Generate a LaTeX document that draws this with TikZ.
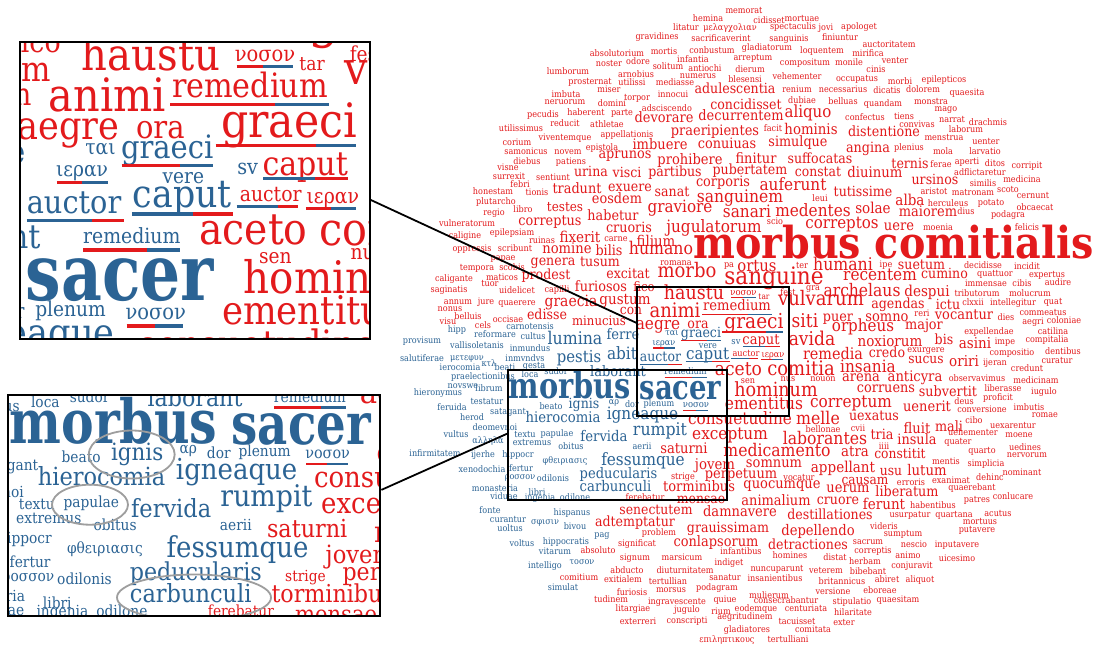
\documentclass[tikz,border=0pt]{standalone}
\usepackage{fontspec}
\usepackage{graphicx}
\usetikzlibrary{calc}
\newfontfamily\cf[FakeStretch=0.9]{DejaVu Serif}
\definecolor{cR}{RGB}{227,26,28}
\definecolor{cB}{RGB}{43,99,148}
\newcounter{wc}
\def\ulw{1.2pt}
\tikzset{wst/.style={inner sep=0pt,anchor=base},
 frame/.style={draw=black,line width=1.7pt,inner sep=0pt},
 inframe/.style={draw=black,line width=2.2pt,inner sep=0pt},
 conn/.style={draw=black,line width=1.8pt},
 ellst/.style={draw=black!38,line width=1.8pt}}
\newcommand\cwR[4]{\stepcounter{wc}\node[wst,text=cR,font=\cf\fontsize{#3}{#3}\selectfont] (w\thewc) at (#1,#2+0.27*#3) {#4};}
\newcommand\cwB[4]{\stepcounter{wc}\node[wst,text=cB,font=\cf\fontsize{#3}{#3}\selectfont] (w\thewc) at (#1,#2+0.27*#3) {#4};}
\newcommand\cwRB[4]{\stepcounter{wc}\node[wst,text=cR,font=\cf\bfseries\fontsize{#3}{#3}\selectfont] (w\thewc) at (#1,#2+0.27*#3) {#4};}
\newcommand\cwBB[4]{\stepcounter{wc}\node[wst,text=cB,font=\cf\bfseries\fontsize{#3}{#3}\selectfont] (w\thewc) at (#1,#2+0.27*#3) {\scalebox{1}[1.12]{#4}};}
\newcommand\swR[3]{\cwR{#1}{#2}{9}{#3}}
\newcommand\swB[3]{\cwB{#1}{#2}{9}{#3}}
\newcommand\ulRB[4]{\draw[line width=\ulw,cR] (#1,#4)--(#2,#4); \draw[line width=\ulw,cB] (#2,#4)--(#3,#4);}
\newcommand\ulBR[4]{\draw[line width=\ulw,cB] (#1,#4)--(#2,#4); \draw[line width=\ulw,cR] (#2,#4)--(#3,#4);}
\newcommand\drawcloud{%
\swR{744}{11}{memorat}\swR{708}{19}{hemina}\swR{769}{21}{cidisset}\swR{802}{19}{mortuae}
\swR{686}{28}{litatur}\swR{730}{28}{μελαγχολιαν}\swR{793}{27}{spectaculis}\swR{826}{28}{jovi}
\swR{859}{27}{apologet}\swR{657}{37}{gravidines}\swR{721}{39}{sacrificaverint}\swR{789}{39}{sanguinis}
\swR{840}{38}{finiuntur}\swR{889}{45}{auctoritatem}\swR{617}{54}{absolutorium}\swR{664}{52}{mortis}
\swR{712}{51}{conbustum}\swR{767}{48}{gladiatorum}\swR{822}{51}{loquentem}\swR{868}{54}{mirifica}
\swR{609}{64}{noster}\swR{638}{62}{odore}\swR{693}{60}{infantia}\swR{753}{58}{arreptum}
\swR{805}{63}{compositum}\swR{849}{63}{monile}\swR{895}{61}{venter}\swR{876}{70}{cinis}
\swR{568}{72}{lumborum}\swR{636}{75}{arnobius}\swR{668}{67}{solitum}\swR{705}{69}{antiochi}
\swR{750}{70}{dierum}\swR{797}{77}{vehementer}\swR{857}{79}{occupatus}\swR{900}{82}{morbi}
\swR{944}{80}{epilepticos}\swR{590}{82}{prosternat}\swR{632}{83}{utilissi}\swR{675}{83}{mediasse}
\swR{698}{76}{numerus}\swR{745}{80}{blesensi}\swR{843}{90}{necessarius}\swR{887}{91}{dicatis}
\swR{923}{90}{dolorem}\swR{967}{93}{quaesita}\swR{566}{95}{imbuta}\swR{609}{90}{miser}
\swR{797}{90}{renium}\swR{565}{102}{neruorum}\swR{612}{104}{domini}\swR{637}{98}{torpor}
\swR{673}{95}{innocui}\swR{802}{101}{dubiae}\swR{843}{102}{belluas}\swR{883}{104}{quandam}
\swR{931}{102}{monstra}\swR{946}{109}{mago}\swR{543}{115}{pecudis}\swR{586}{113}{haberent}
\swR{622}{113}{parte}\swR{667}{109}{adsciscendo}\swR{865}{118}{confectus}\swR{904}{117}{tiens}
\swR{917}{125}{convivas}\swR{952}{120}{narrat}\swR{988}{123}{drachmis}\swR{565}{124}{reducit}
\swR{607}{125}{athletae}\swR{773}{129}{facit}\swR{966}{130}{laborum}\swR{521}{129}{utilissimus}
\swR{565}{138}{viventemque}\swR{627}{135}{appellationis}\swR{944}{138}{menstrua}\swR{986}{142}{uenter}
\swR{517}{143}{corium}\swR{526}{152}{samonicus}\swR{568}{152}{novem}\swR{602}{148}{epistola}
\swR{909}{148}{plenius}\swR{943}{152}{mola}\swR{985}{152}{larvatio}
\swR{508}{168}{visne}\swR{509}{177}{surrexit}\swR{527}{162}{diebus}\swR{571}{162}{patiens}
\swR{520}{185}{febri}\swR{553}{178}{sentiunt}\swR{493}{192}{honestam}\swR{537}{193}{tionis}
\swR{496}{202}{plutarcho}\swR{523}{210}{libro}\swR{494}{213}{regio}\swR{467}{224}{vulneratorum}
\swR{465}{236}{caligine}\swR{512}{233}{epilepsiam}\swR{616}{239}{carne}\swR{472}{249}{oppressis}
\swR{542}{241}{ruinas}\swR{515}{249}{scribunt}\swR{503}{258}{papae}\swR{676}{263}{romana}
\swR{477}{268}{tempora}\swR{512}{268}{scobis}\swR{454}{279}{caligante}\swR{502}{278}{maticos}
\swR{490}{284}{tuor}\swR{517}{291}{uidelicet}\swR{557}{290}{capilli}\swR{449}{290}{saginatis}
\swR{458}{302}{annum}\swR{486}{302}{jure}\swR{517}{303}{quaerere}\swR{450}{309}{nonus}
\swR{468}{317}{belluis}\swR{448}{322}{visu}\swR{483}{326}{cels}\swR{508}{320}{occisae}
\swR{941}{165}{ferae}\swR{967}{162}{aperti}\swR{995}{164}{ditos}\swR{1027}{166}{corripit}
\swR{980}{173}{adflictaretur}\swR{983}{184}{similis}\swR{1022}{180}{medicina}\swR{934}{192}{aristot}
\swR{973}{193}{matronam}\swR{1008}{190}{scoto}\swR{1033}{196}{cernunt}\swR{820}{199}{leui}
\swR{948}{204}{herculeus}\swR{991}{203}{potato}\swR{1035}{208}{obcaecat}\swR{966}{212}{dius}
\swR{1008}{215}{podagra}\swR{775}{222}{scio}\swR{938}{228}{moenia}\swR{1027}{228}{felicis}
\swR{729}{265}{pa}\swR{802}{266}{ter}\swR{886}{265}{ipe}\swR{983}{266}{decidisse}
\swR{1027}{267}{incidit}\swR{995}{274}{quattuor}\swR{1047}{275}{expertus}\swR{986}{284}{immensae}
\swR{1022}{284}{cibis}\swR{1058}{283}{audire}\swR{977}{294}{tributorum}\swR{1030}{294}{molucrum}
\swR{788}{293}{fest}\swR{813}{288}{gra}\swR{973}{303}{clxxii}\swR{1013}{303}{intellegitur}
\swR{1053}{302}{quat}\swR{922}{314}{reri}\swR{1006}{318}{dies}\swR{1043}{313}{commeatus}
\swR{1033}{322}{aegri}\swR{1064}{321}{coloniae}\swR{989}{332}{expellendae}\swR{1053}{332}{catilina}
\swR{1005}{342}{impe}\swR{1047}{340}{compitalia}\swR{926}{350}{exurgere}\swR{1012}{353}{compositio}
\swR{1063}{352}{dentibus}\swR{995}{363}{ijeran}\swR{1057}{361}{curatur}\swR{1027}{369}{credunt}
\swR{977}{379}{observavimus}\swR{1036}{381}{medicinam}\swR{788}{379}{nus}\swR{823}{379}{nouon}
\swR{1003}{389}{liberasse}\swR{1044}{392}{iugulo}\swR{998}{398}{proficit}\swR{964}{402}{deus}
\swR{982}{410}{conversione}\swR{1029}{408}{imbutis}\swR{974}{421}{cibo}\swR{1045}{415}{romae}
\swR{1013}{426}{uexarentur}\swR{823}{430}{bellonae}\swR{858}{429}{cvii}\swR{973}{433}{uehementer}
\swR{1019}{435}{moene}\swR{958}{442}{quater}\swR{1025}{448}{uedines}\swR{1027}{455}{nervorum}
\swR{982}{451}{quarto}\swR{884}{447}{iiii}\swR{946}{462}{mentis}\swR{986}{464}{simplicia}
\swR{1022}{473}{nominant}\swR{990}{478}{dehinc}\swR{951}{481}{exanimat}\swR{911}{483}{erroris}
\swR{972}{488}{quaerebant}\swR{1013}{497}{conlucare}\swR{977}{500}{patres}\swR{933}{506}{habentibus}
\swR{954}{515}{quartana}\swR{998}{514}{acutus}\swR{910}{515}{usurpatur}\swR{980}{522}{mortuus}
\swR{884}{527}{videris}\swR{977}{530}{putavere}\swR{903}{534}{sumptum}\swR{868}{542}{sacrum}
\swR{914}{545}{nescio}\swR{957}{545}{inputavere}\swR{873}{551}{correptis}\swR{835}{558}{distat}
\swR{908}{556}{animo}\swR{957}{559}{uicesimo}\swR{865}{562}{herbam}\swR{912}{566}{conjuravit}
\swR{826}{571}{veterem}\swR{868}{572}{bibebant}\swR{842}{582}{britannicus}\swR{887}{580}{abiret}
\swR{920}{580}{aliquot}\swR{833}{592}{versione}\swR{880}{591}{eboreae}\swR{852}{602}{stipulatio}
\swR{898}{600}{quaesitam}\swR{853}{613}{hilaritate}\swR{844}{623}{exter}
\swB{510}{529}{uoltus}\swB{545}{522}{σφισιν}\swB{575}{527}{bivou}\swB{602}{535}{pag}
\swR{659}{533}{problem}\swB{522}{544}{voltus}\swB{566}{542}{hippocratis}\swR{637}{544}{significat}
\swB{555}{552}{vitarum}\swR{598}{551}{absoluto}\swR{635}{558}{signum}\swR{682}{558}{marsicum}
\swR{741}{552}{infantibus}\swR{790}{556}{homines}\swB{582}{562}{τοσον}\swB{545}{566}{intelligo}
\swR{729}{563}{indiget}\swR{627}{571}{abducto}\swR{685}{571}{diuturnitatem}\swR{777}{569}{nuncuparunt}
\swR{579}{578}{comitium}\swR{623}{580}{exitialem}\swR{668}{582}{tertullian}\swR{725}{578}{sanatur}
\swR{775}{579}{insanientibus}\swB{563}{588}{simulat}\swR{632}{593}{furiosis}\swR{671}{590}{morsus}
\swR{717}{588}{podagram}\swR{769}{596}{mulierum}\swR{611}{600}{tudinem}\swR{677}{602}{ingravescente}
\swR{725}{600}{quiue}\swR{786}{601}{consecrabantur}\swR{633}{609}{litargiae}\swR{687}{610}{jugulo}
\swR{721}{612}{rium}\swR{756}{609}{eodemque}\swR{806}{609}{centuriata}\swR{638}{622}{exterreri}
\swR{687}{621}{conscripti}\swR{745}{617}{aegritudinem}\swR{797}{622}{tacuisset}\swR{747}{630}{gladiatores}
\swR{813}{630}{comitata}\swR{727}{640}{επιληπτικους}\swR{788}{640}{tertulliani}
\swB{487}{402}{testatur}\swB{452}{408}{feruida}\swB{508}{412}{satagant}\swB{551}{407}{beato}
\swB{614}{402}{αρ}\swB{632}{405}{dor}\swB{472}{418}{herod}\swB{495}{428}{deomevnoi}
\swB{456}{435}{vultus}\swB{488}{441}{αλληλα}\swB{525}{435}{textu}\swB{557}{434}{papulae}
\swB{532}{443}{extremus}\swB{571}{447}{obitus}\swB{642}{447}{aerii}\swB{435}{454}{infirmitatem}
\swB{483}{455}{ijerhe}\swB{518}{455}{hippocr}\swB{565}{461}{φθειριασις}\swB{482}{470}{xenodochia}
\swB{521}{469}{fertur}\swB{520}{477}{ροσσον}\swB{553}{479}{odilonis}\swB{495}{489}{monasteria}
\swB{537}{493}{libri}\swB{504}{497}{viduae}\swB{540}{498}{ingenia}\swB{575}{498}{odilone}
\swR{645}{498}{ferebatur}\swB{490}{511}{fonte}\swB{572}{513}{hispanus}\swB{508}{520}{curantur}
\swR{683}{477}{strige}\swR{799}{478}{vocatur}
\swB{457}{330}{hipp}\swB{530}{327}{carnotensis}\swB{495}{335}{reformare}\swB{533}{337}{cultus}
\swB{422}{341}{provisum}\swB{477}{346}{vallisoletanis}\swB{530}{349}{inmundus}\swB{422}{359}{salutiferae}
\swB{467}{358}{μετεφυν}\swB{525}{359}{inmvndvs}\swB{489}{364}{κτλ}\swB{460}{368}{ierocomia}
\swB{505}{368}{beati}\swB{534}{366}{gesta}\swB{483}{377}{praelectionibus}\swB{530}{375}{loca}
\swB{556}{372}{sudor}\swB{463}{386}{novswe}\swB{438}{393}{hieronymus}\swB{489}{389}{librum}
\cwB{575}{340}{17.5}{lumina}\cwB{623}{336}{14.5}{ferre}\cwB{579}{358}{16.5}{pestis}
\cwB{622}{355}{17}{abit}\cwB{618}{373}{14.5}{laborant}
\cwBB{570}{390}{32}{morbus}\cwBB{680.5}{391}{30.5}{sacer}
\cwB{584}{405}{14}{ignis}\cwB{563}{419}{14.7}{hierocomia}\cwB{642.5}{415}{17}{igneaque}
\cwB{604}{438}{14.7}{fervida}\cwB{660}{431}{17.5}{rumpit}\cwB{643}{461}{17}{fessumque}
\cwB{618.5}{475}{14.5}{peducularis}\cwB{615.5}{488}{14.7}{carbunculi}
\swB{659}{404}{plenum}\cwB{696}{405}{9.4}{νοσον}
\cwR{694}{294}{19.4}{haustu}\cwR{743.5}{293}{9.4}{νοσον}\cwR{764}{297}{8.3}{tar}
\cwR{675}{312}{20}{animi}\cwR{737}{307}{14.6}{remedium}\cwR{658}{325}{17}{aegre}
\cwR{698}{325}{14}{ora}\cwR{754}{323}{20.6}{graeci}\cwB{672}{333.5}{9}{ται}
\cwB{701}{334}{14}{graeci}\cwB{736}{342}{9.3}{sv}\cwR{761}{341}{14.5}{caput}
\cwB{664}{343}{9}{ιεραν}\cwB{708}{346}{9}{vere}\cwB{660.5}{358}{13.9}{auctor}
\cwB{707.6}{354.6}{16.8}{caput}\cwR{746}{354}{9.1}{auctor}\cwR{773}{354.6}{9.1}{ιεραν}
\cwB{685.6}{372}{9.1}{remedium}\cwR{738.5}{370}{19}{aceto}\cwR{748}{381}{9}{sen}
\cwR{776}{391}{19.5}{hominum}\cwR{764}{405}{17.2}{ementitus}\cwR{801}{370}{20}{comitia}
\cwR{805}{322}{19}{siti}\cwR{812}{340}{19}{avida}\cwR{821}{300}{20}{vulvarum}\cwR{833}{355}{16}{remedia}
\cwR{735}{90}{14}{adulescentia}\cwR{746}{106}{14}{concidisset}\cwR{808}{113}{16.7}{aliquo}
\cwR{664}{119}{14.4}{devorare}\cwR{741}{117}{14.4}{decurrentem}\cwR{715}{132}{14.4}{praeripientes}
\cwR{811}{130}{14.8}{hominis}\cwR{884}{133}{14.1}{distentione}\cwR{660}{146}{14.5}{imbuere}
\cwR{727}{145}{14.3}{conuiuas}\cwR{798}{143}{14.2}{simulque}\cwR{868}{149}{14.2}{angina}
\cwR{625}{155}{14.3}{aprunos}\cwR{690}{161}{14.5}{prohibere}\cwR{756}{160}{14.4}{finitur}
\cwR{820}{160}{14}{suffocatas}\cwR{591}{173}{14}{urina}\cwR{627}{174}{14}{visci}
\cwR{675}{173}{14}{partibus}\cwR{910}{165}{14}{ternis}\cwR{750}{171}{14}{pubertatem}
\cwR{818}{173}{13.8}{constat}\cwR{875}{174}{14.7}{diuinum}\cwR{935}{181}{14}{ursinos}
\cwR{723}{183}{14.3}{corporis}\cwR{793}{186}{17}{auferunt}\cwR{863}{193}{14}{tutissime}
\cwR{577}{190}{14.3}{tradunt}\cwR{630}{188}{14}{exuere}\cwR{672}{193}{14}{sanat}
\cwR{617}{200}{14.3}{eosdem}\cwR{740}{198}{17.3}{sanguinem}\cwR{910}{201}{15}{alba}
\cwR{565}{208}{13.3}{testes}\cwR{680}{208}{16.9}{graviore}\cwR{747}{213}{17}{sanari}
\cwR{813}{212}{17}{medentes}\cwR{873}{209}{15}{solae}\cwR{928}{213}{14.4}{maiorem}
\cwR{613}{217}{14.2}{habetur}\cwR{550}{222}{14.3}{correptus}\cwR{629}{229}{14.2}{cruoris}
\cwR{714}{228}{17}{jugulatorum}\cwR{842}{224}{16.7}{correptos}\cwR{899}{227}{14.5}{uere}
\cwR{580}{238}{15}{fixerit}\cwR{656}{242}{14.8}{filium}\cwR{567}{250}{14.6}{nomine}
\cwR{609}{252}{14.2}{bilis}\cwR{661}{250}{17.5}{humano}
\cwRB{893.5}{247}{44}{morbus comitialis}
\cwR{553}{262}{14}{genera}\cwR{600}{263}{14}{tusum}\cwR{757}{267}{16.5}{ortus}
\cwR{843}{266}{17.5}{humani}\cwR{921.5}{266}{14}{suetum}\cwR{546}{276}{14}{prodest}
\cwR{628}{275}{14}{excitat}\cwR{687}{272}{20}{morbo}\cwR{774}{278}{24}{sanguine}
\cwR{880}{276}{17}{recentem}\cwR{944.5}{275}{14}{cumino}\cwR{601}{288}{14.3}{furiosos}
\cwR{644}{288}{13}{fico}\cwR{862}{292}{17.3}{archelaus}\cwR{927}{292}{15}{despui}
\cwR{571}{302}{15.5}{graecia}\cwR{625}{300}{15}{gustum}\cwR{898}{305}{14}{agendas}
\cwR{948}{306}{14}{ictu}\cwR{547}{316}{14}{edisse}\cwR{631}{311}{13.6}{con}
\cwR{599}{322}{13}{minucius}\cwR{838}{318}{14.2}{puer}\cwR{887}{318}{14.5}{somno}
\cwR{964}{316}{14.4}{vocantur}\cwR{863}{327}{16.8}{orpheus}\cwR{924}{326}{14.3}{major}
\cwR{890}{342}{15}{noxiorum}\cwR{944}{341}{14}{bis}\cwR{975}{344}{15}{asini}
\cwR{887}{354}{14}{credo}\cwR{926}{360}{13.6}{sucus}\cwR{964}{362}{15}{oriri}
\cwR{868}{368}{17}{insania}\cwR{861}{378}{14.5}{arena}\cwR{915}{378}{14.6}{anticyra}
\cwR{886}{389}{14.3}{corruens}\cwR{948}{393}{14.2}{subvertit}\cwR{851}{403}{17}{correptum}
\cwR{927}{408}{14.5}{uenerit}\cwR{818}{420}{17.5}{melle}\cwR{874}{417}{14}{uexatus}
\cwR{917}{430}{14.6}{fluit}\cwR{949}{428}{14.2}{mali}\cwR{740}{420}{17}{consuetudine}
\cwR{730}{435}{17}{exceptum}\cwR{825}{440}{17.4}{laborantes}\cwR{882}{436}{14.2}{tria}
\cwR{917}{441}{14.3}{insula}\cwR{684}{450}{14.6}{saturni}\cwR{777}{452}{17.4}{medicamento}
\cwR{855}{452}{14.8}{atra}\cwR{900}{455}{13.7}{constitit}\cwR{715}{465}{14.8}{jovem}
\cwR{774}{464}{14.5}{somnum}\cwR{843}{468}{15}{appellant}\cwR{891}{472}{13.7}{usu}
\cwR{927}{472}{14.7}{lutum}\cwR{741}{475}{14.4}{perpetuum}\cwR{865}{481}{13.5}{causam}
\cwR{782}{485}{14.5}{quocumque}\cwR{699}{488}{14.5}{torminibus}\cwR{848}{489}{14.5}{uerum}
\cwR{907}{493}{14.2}{liberatum}\cwR{701}{500}{13.8}{mensae}\cwR{776}{502}{14.4}{animalium}
\cwR{838}{501}{14}{cruore}\cwR{884}{505}{15}{ferunt}\cwR{656}{511}{13.8}{senectutem}
\cwR{740}{513}{14.5}{damnavere}\cwR{830}{516}{14}{destillationes}\cwR{635}{523}{14}{adtemptatur}
\cwR{728}{529}{14}{grauissimam}\cwR{818}{532}{14.6}{depellendo}\cwR{716}{543}{14.4}{conlapsorum}
\cwR{808}{546}{14}{detractiones}
\ulRB{731.2}{742.8}{755.8}{297.7}
\ulRB{702.4}{748}{771.5}{314.3}
\ulRB{722}{765.5}{782.9}{332}
\ulRB{681.2}{706.6}{721}{340.6}
\ulBR{742.8}{765.2}{779.7}{346.5}
\ulRB{653}{663.9}{675.4}{348}
\ulBR{640}{668.3}{682}{364.7}
\ulBR{685.6}{712.4}{729.8}{361.8}
\ulBR{731.2}{749.3}{758}{358.6}
\ulRB{761.3}{772.2}{783}{359.4}
\ulRB{664.5}{692}{706.6}{377.4}
\ulRB{683.4}{695.7}{708}{410.5}
}
\begin{document}
\begin{tikzpicture}[x=1pt,y=-1pt]
\useasboundingbox (0,0) rectangle (1094,646);
\fill[white] (0,0) rectangle (1094,646);
\drawcloud
\node[frame,minimum width=152pt,minimum height=129pt] (ubox) at (713,351.5) {};
\node[frame,minimum width=219pt,minimum height=130pt] (lbox) at (617.5,435) {};
% top inset
\begin{scope}
\clip (20,42) rectangle (369.6,338.7);
\fill[white] (20,42) rectangle (369.6,338.7);
\def\ulw{3.2pt}
\begin{scope}[shift={(-1445.1,-618.1)},scale=2.3,transform shape]
\drawcloud
\end{scope}
\end{scope}
% bottom inset
\begin{scope}
\clip (8,395) rectangle (380.3,616);
\fill[white] (8,395) rectangle (380.3,616);
\def\ulw{2.4pt}
\begin{scope}[shift={(-855.6,-234)},scale=1.7,transform shape]
\drawcloud
\end{scope}
\draw[ellst] (131.7,454.5) ellipse [x radius=43pt, y radius=24pt];
\draw[ellst] (90,504.7) ellipse [x radius=38pt, y radius=20pt];
\draw[ellst] (194,597.5) ellipse [x radius=77pt, y radius=23pt];
\end{scope}
\node[inframe,minimum width=349.6pt,minimum height=296.7pt] (tin) at (194.8,190.35) {};
\node[inframe,minimum width=372.3pt,minimum height=221pt] (lin) at (194.15,505.5) {};
\draw[conn] ($(tin.north east)!0.532!(tin.south east)$) -- ($(ubox.north west)!0.28!(ubox.south west)$);
\draw[conn] ($(lin.north east)!0.43!(lin.south east)$) -- ($(lbox.north west)!0.49!(lbox.south west)$);
\end{tikzpicture}
\end{document}
